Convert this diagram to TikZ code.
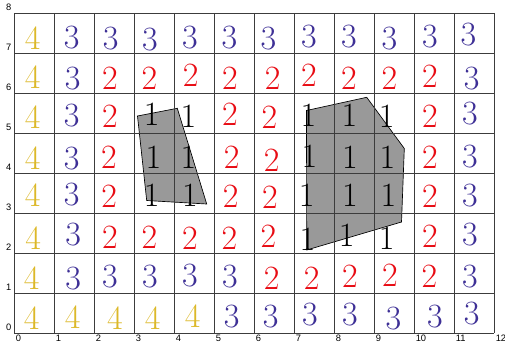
\documentclass[tikz,border=0pt]{standalone}
\usepackage{fontspec}
\setsansfont{Liberation Sans}
\definecolor{numgold}{RGB}{220,184,40}
\definecolor{numblue}{RGB}{62,48,150}
\definecolor{numred}{RGB}{232,12,20}
\begin{document}
\begin{tikzpicture}[x=0.75pt,y=0.75pt,yscale=-1,xscale=1,
    gridline/.style={color={rgb, 255:red, 60; green, 60; blue, 60 },line width=0.65pt},
    region/.style={draw=black,line width=0.5pt,fill={rgb, 255:red, 153; green, 153; blue, 153 }},
    digit/.style={inner sep=0pt,font=\fontsize{25.5}{25.5}\selectfont},
    d1/.style={digit,text=black},
    d2/.style={digit,text=numred},
    d3/.style={digit,text=numblue},
    d4/.style={digit,text=numgold},
    ticklbl/.style={inner sep=0pt,font=\sffamily\fontsize{7}{8}\selectfont}]
        \useasboundingbox (0,0) rectangle (505,342);
        % shaded regions
        \draw [region] (137.5,116) -- (177.3,108.3) -- (206.7,204) -- (146.7,200.5) -- cycle ;
        \draw [region] (306.5,110.5) -- (366.7,97.3) -- (404.3,148.5) -- (401.5,222) -- (306.7,250) -- cycle ;
        % grid
        \foreach \i in {0,...,12} \draw [gridline] ({14+40*\i},13) -- ({14+40*\i},333) ;
        \foreach \j in {0,...,8} \draw [gridline] (14,{13+40*\j}) -- (494,{13+40*\j}) ;
        % axis labels
        \foreach \i in {0,...,12} \node [ticklbl,anchor=north west] (xl\i) at ({15.5+40*\i},335) {\i};
        \foreach \j in {0,...,8} \node [ticklbl,anchor=south east] (yl\j) at (11.6,{330.8-40*\j}) {\j};
        % cell values
        \foreach \c/\r/\v/\px/\py in {
            0/7/4/32.7/38.3, 1/7/3/71.7/37.7, 2/7/3/110.7/39, 3/7/3/150/40, 4/7/3/190/37.7, 5/7/3/229.3/37.7,
            6/7/3/268.3/38.3, 7/7/3/309/36.7, 8/7/3/349/36.7, 9/7/3/389.3/38.3, 10/7/3/430/36.7, 11/7/3/468.3/34.3,
            0/6/4/32.7/76.7, 1/6/3/72.7/78.3, 2/6/2/110/78.3, 3/6/2/149.3/78.3, 4/6/2/190.7/75, 5/6/2/230/78.3,
            6/6/2/272.7/78.3, 7/6/2/309/75, 8/6/2/349/78.3, 9/6/2/389.3/78.3, 10/6/2/430/76.7, 11/6/3/471.7/78.3,
            0/5/4/32.7/117.5, 1/5/3/71.7/116, 2/5/2/110/116, 3/5/1/151.7/114, 4/5/1/188.3/116, 5/5/2/230/114,
            6/5/2/269.3/117.5, 7/5/1/308.3/115, 8/5/1/349.3/115, 9/5/1/386.7/116, 10/5/2/430/116, 11/5/3/470/114,
            0/4/4/32.7/157.7, 1/4/3/71.7/158.3, 2/4/2/109/157.7, 3/4/1/153.3/157.7, 4/4/1/188.3/157.7, 5/4/2/231.7/157.7,
            6/4/2/271.7/160, 7/4/1/309.3/156.7, 8/4/1/350/157.7, 9/4/1/387.3/157.7, 10/4/2/430/157.7, 11/4/3/470/156.7,
            0/3/4/32.7/195, 1/3/3/71.7/195, 2/3/2/109.3/196.7, 3/3/1/151.7/195, 4/3/1/190/195, 5/3/2/230.7/196.7,
            6/3/2/270/197.7, 7/3/1/306.7/195, 8/3/1/350/195, 9/3/1/388.3/195, 10/3/2/430/196.7, 11/3/3/470/196,
            0/2/4/33.3/238.3, 1/2/3/73.3/235, 2/2/2/110/237.3, 3/2/2/149.3/237.3, 4/2/2/190/238.3, 5/2/2/229.3/238.3,
            6/2/2/268.3/236.7, 7/2/1/307.5/239, 8/2/1/346.7/235, 9/2/1/386.7/238.3, 10/2/2/430/236.7, 11/2/3/470/235,
            0/1/4/31.7/278.3, 1/1/3/73.3/278.3, 2/1/3/110/276.7, 3/1/3/150/276.7, 4/1/3/190/276, 5/1/3/230/276.7,
            6/1/2/271.7/278.3, 7/1/2/311.7/278.3, 8/1/2/350/276.7, 9/1/2/390/275, 10/1/2/429.3/276.7, 11/1/3/470/276.7,
            0/0/4/31.7/318.3, 1/0/4/72.7/316.7, 2/0/4/115/318.3, 3/0/4/152.7/318.3, 4/0/4/192.7/316, 5/0/3/231.7/316.7,
            6/0/3/270.7/316.7, 7/0/3/310/315, 8/0/3/350/315, 9/0/3/393.3/318.3, 10/0/3/435/316.7, 11/0/3/471.7/313.3}
            \node [d\v] (n\c-\r) at (\px,\py) {\v};
\end{tikzpicture}
\end{document}
